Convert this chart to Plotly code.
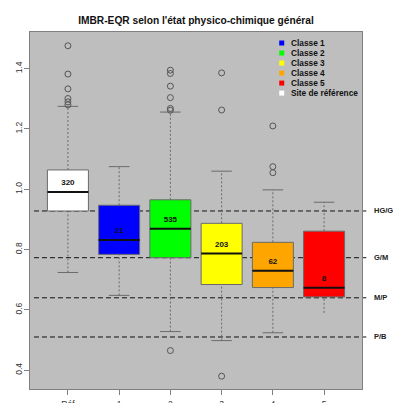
import plotly.graph_objects as go

# Box statistics per group (IMBR-EQR)
groups = ["Réf", "1", "2", "3", "4", "5"]
fill_colors = ["#FFFFFF", "#0000FF", "#00FF00", "#FFFF00", "#FFA500", "#FF0000"]
q1 = [0.928, 0.784, 0.773, 0.684, 0.674, 0.643]
median = [0.991, 0.832, 0.869, 0.787, 0.730, 0.673]
q3 = [1.064, 0.947, 0.965, 0.887, 0.824, 0.861]
whisker_low = [0.724, 0.648, 0.528, 0.498, 0.524, 0.590]
whisker_high = [1.275, 1.075, 1.256, 1.060, 0.998, 0.957]
low_cap = [True, True, True, True, True, False]
counts = [320, 21, 535, 203, 62, 8]
means = [1.020, 0.861, 0.899, 0.816, 0.758, 0.702]
outliers = [
    [1.476, 1.382, 1.333, 1.301, 1.290, 1.280],
    [],
    [1.395, 1.384, 1.342, 1.304, 1.268, 1.262, 0.465],
    [1.386, 1.263, 0.380],
    [1.210, 1.075, 1.055],
    [],
]

# Quality class boundaries
thresholds = [0.928, 0.773, 0.640, 0.510]
threshold_labels = ["HG/G", "G/M", "M/P", "P/B"]

legend_labels = ["Classe 1", "Classe 2", "Classe 3", "Classe 4", "Classe 5", "Site de référence"]
legend_colors = ["#0000FF", "#00FF00", "#FFFF00", "#FFA500", "#FF0000", "#FFFFFF"]

positions = list(range(1, len(groups) + 1))
BOX_W = 0.8
CAP_W = 0.4
FONT = "Liberation Sans, Arial, sans-serif"

W, H = 393, 403
ML, MR, MT, MB = 30, 31.3, 32.3, 14.3

fig = go.Figure()

# Whiskers (dotted)
wx, wy = [], []
for p, lo, hi, a, b in zip(positions, whisker_low, whisker_high, q1, q3):
    wx += [p, p, None, p, p, None]
    wy += [lo, a, None, b, hi, None]
fig.add_trace(go.Scatter(x=wx, y=wy, mode="lines", showlegend=False, hoverinfo="skip",
                         line=dict(color="#6a6a6a", width=1, dash="2px,2px")))

# Caps
cx, cy = [], []
for p, lo, hi, lc in zip(positions, whisker_low, whisker_high, low_cap):
    cx += [p - CAP_W / 2, p + CAP_W / 2, None]
    cy += [hi, hi, None]
    if lc:
        cx += [p - CAP_W / 2, p + CAP_W / 2, None]
        cy += [lo, lo, None]
fig.add_trace(go.Scatter(x=cx, y=cy, mode="lines", showlegend=False, hoverinfo="skip",
                         line=dict(color="#6a6a6a", width=1)))

# Boxes
for p, a, m, b, fc in zip(positions, q1, median, q3, fill_colors):
    fig.add_trace(go.Scatter(
        x=[p - BOX_W / 2, p + BOX_W / 2, p + BOX_W / 2, p - BOX_W / 2, p - BOX_W / 2],
        y=[a, a, b, b, a], mode="lines", fill="toself", fillcolor=fc,
        line=dict(color="#6a6a6a", width=1), showlegend=False, hoverinfo="skip"))

# Medians
mx, my = [], []
for p, m in zip(positions, median):
    mx += [p - BOX_W / 2, p + BOX_W / 2, None]
    my += [m, m, None]
fig.add_trace(go.Scatter(x=mx, y=my, mode="lines", showlegend=False, hoverinfo="skip",
                         line=dict(color="#111111", width=2)))

# Outliers
ox, oy = [], []
for p, pts in zip(positions, outliers):
    ox += [p] * len(pts)
    oy += pts
fig.add_trace(go.Scatter(x=ox, y=oy, mode="markers", showlegend=False, hoverinfo="skip",
                         marker=dict(symbol="circle-open", size=6, color="#555555",
                                     line=dict(width=1, color="#555555"))))

# Sample counts
fig.add_trace(go.Scatter(x=positions, y=means, mode="text", text=[str(c) for c in counts],
                         textposition="middle center", showlegend=False, hoverinfo="skip",
                         textfont=dict(family=FONT, size=8, color="#111111", weight="bold")))

# Threshold lines and labels
for t, lab in zip(thresholds, threshold_labels):
    fig.add_shape(type="line", xref="paper", yref="y", x0=0.012, x1=1.013, y0=t, y1=t,
                  layer="below", line=dict(color="#111111", width=1, dash="5px,3px"))
    fig.add_annotation(xref="paper", yref="y", x=1.031, y=t, text=lab, showarrow=False,
                       xanchor="left", yanchor="middle",
                       font=dict(family=FONT, size=7.5, color="#222222", weight="bold"))

# Legend
pw = W - ML - MR
ph = H - MT - MB
for i, (lab, col) in enumerate(zip(legend_labels, legend_colors)):
    yc = 43.3 + 10 * i
    yp = 1 - (yc - MT) / ph
    xs = (281.5 - ML) / pw
    fig.add_shape(type="rect", xref="paper", yref="paper",
                  x0=xs - 2.5 / pw, x1=xs + 2.5 / pw, y0=yp - 2.5 / ph, y1=yp + 2.5 / ph,
                  fillcolor=col, line=dict(width=0))
    fig.add_annotation(xref="paper", yref="paper", x=(289 - ML) / pw, y=yp, text=lab,
                       showarrow=False, xanchor="left", yanchor="middle",
                       font=dict(family=FONT, size=8.3, color="#111111", weight="bold"))

fig.update_layout(
    width=W, height=H,
    margin=dict(l=ML, r=MR, t=MT, b=MB, autoexpand=False),
    paper_bgcolor="white", plot_bgcolor="#BEBEBE",
    title=dict(text="IMBR-EQR selon l'état physico-chimique général", x=0.5, xanchor="center",
               xref="paper", y=1 - 20 / H, yanchor="middle",
               font=dict(family=FONT, size=10.2, color="#111111", weight="bold")),
    showlegend=False,
    xaxis=dict(range=[0.26, 6.74], tickmode="array", tickvals=positions, ticktext=groups,
               showgrid=False, zeroline=False, showline=True, linecolor="#808080", mirror=True,
               ticks="outside", ticklen=5, tickcolor="#808080", ticklabelstandoff=2,
               automargin=False,
               tickfont=dict(family=FONT, size=8.5, color="#333333")),
    yaxis=dict(range=[0.3375, 1.5216], tickmode="array",
               tickvals=[0.4, 0.6, 0.8, 1.0, 1.2, 1.4],
               ticktext=["0.4", "0.6", "0.8", "1.0", "1.2", "1.4"], tickangle=-90,
               showgrid=False, zeroline=False, showline=True, linecolor="#808080", mirror=True,
               ticks="outside", ticklen=5, tickcolor="#808080", automargin=False,
               ticklabelstandoff=-1,
               tickfont=dict(family=FONT, size=8.5, color="#333333")),
)

fig.write_html("out.html")
